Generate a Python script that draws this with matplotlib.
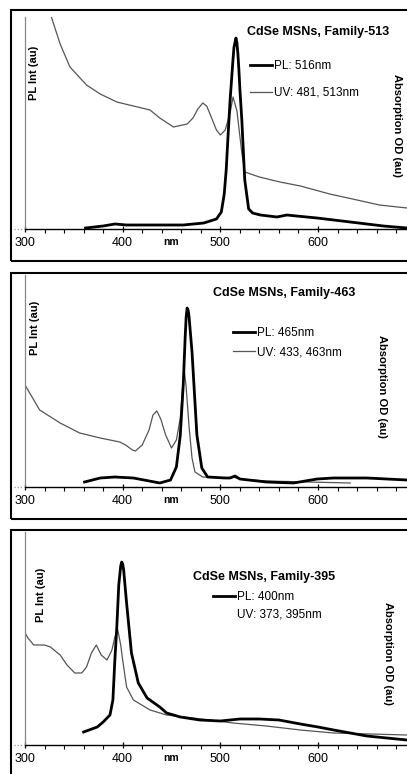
import matplotlib
matplotlib.use("Agg")
import matplotlib.pyplot as plt
from matplotlib.lines import Line2D
from matplotlib.patches import Rectangle
from matplotlib.ticker import MultipleLocator

plt.rcParams['font.family'] = ['Liberation Sans', 'DejaVu Sans']

W, H = 407, 774

# wavelength (nm) / intensity (au)
pl1_nm = [362, 380, 392, 404, 430, 462, 483, 496, 501, 504, 506, 508, 510, 513, 514, 516, 517, 518, 519, 520, 522, 525, 529, 533, 541, 558, 568, 578, 599, 633, 667, 691]
pl1 = [1, 3, 5, 4, 4, 4, 6, 10, 17, 35, 59, 95, 129, 170, 182, 191, 186, 175, 159, 140, 109, 49, 20, 16, 14, 12, 14, 13, 11, 7, 3, 1]
uv1_nm = [322, 327, 336, 346, 363, 377, 394, 411, 428, 438, 452, 466, 472, 477, 482, 486, 489, 496, 500, 505, 510, 513, 517, 522, 525, 540, 561, 582, 612, 640, 663, 691]
uv1 = [240, 212, 185, 162, 144, 135, 127, 123, 119, 111, 102, 105, 111, 120, 126, 123, 116, 99, 94, 99, 116, 132, 118, 76, 57, 52, 47, 43, 35, 29, 24, 21]

pl2_nm = [361, 377, 392, 411, 438, 449, 455, 459, 462, 464, 465, 466, 467, 468, 471, 476, 481, 487, 505, 510, 515, 520, 547, 575, 599, 616, 650, 691]
pl2 = [5, 9, 10, 9, 4, 7, 20, 52, 102, 150, 170, 179, 177, 170, 135, 52, 19, 10, 9, 9, 11, 8, 5, 4, 8, 9, 9, 7]
uv2_nm = [300, 303, 315, 336, 356, 377, 397, 403, 410, 413, 420, 427, 431, 435, 439, 444, 450, 455, 459, 461, 463, 465, 468, 471, 474, 482, 506, 513, 520, 547, 633]
uv2 = [102, 97, 77, 64, 54, 49, 45, 42, 37, 36, 42, 57, 72, 76, 68, 52, 39, 47, 69, 95, 117, 100, 60, 29, 15, 10, 9, 10, 8, 6, 4]

pl3_nm = [360, 374, 380, 387, 390, 392, 394, 396, 398, 399, 400, 401, 404, 409, 416, 425, 438, 445, 459, 479, 500, 520, 540, 560, 582, 600, 616, 650, 691]
pl3 = [13, 18, 23, 30, 45, 85, 118, 160, 179, 183, 181, 175, 142, 92, 62, 47, 38, 32, 28, 25, 24, 26, 26, 25, 21, 18, 15, 9, 5]
uv3_nm = [300, 303, 309, 320, 326, 336, 343, 351, 358, 363, 368, 373, 378, 384, 389, 392, 395, 398, 400, 404, 411, 428, 445, 472, 513, 547, 582, 616, 691]
uv3 = [112, 107, 100, 100, 98, 90, 80, 72, 72, 78, 92, 100, 90, 85, 95, 108, 115, 100, 85, 58, 45, 35, 30, 27, 22, 19, 15, 12, 10]

titles = ["CdSe MSNs, Family-513", "CdSe MSNs, Family-463", "CdSe MSNs, Family-395"]
pl_labels = ["PL: 516nm", "PL: 465nm", "PL: 400nm"]
uv_labels = ["UV: 481, 513nm", "UV: 433, 463nm", "UV: 373, 395nm"]
xticks = [300, 400, 500, 600]

# layout in pixels: (axes top, axes bottom, box top, box bottom)
panels = [
    dict(top=17, bot=229, box=(10, 261), title=(247, 32), leg=(250, 60), lsp=1.25,
         ylab=(34, 73), abs=(397, 125), uvhandle=True),
    dict(top=275, bot=487, box=(273, 519), title=(213, 293), leg=(233, 327), lsp=0.62,
         ylab=(35, 328), abs=(382, 386), uvhandle=True),
    dict(top=532, bot=745, box=(530, 790), title=(193, 577), leg=(213, 591), lsp=0.45,
         ylab=(41, 595), abs=(388, 653), uvhandle=False),
]
data = [(pl1_nm, pl1, uv1_nm, uv1), (pl2_nm, pl2, uv2_nm, uv2), (pl3_nm, pl3, uv3_nm, uv3)]

def fx(x):
    return x / W

def fy(y):
    return 1 - y / H

fig = plt.figure(figsize=(W / 100, H / 100), dpi=100)
x_left = 25
x_max = 300 + (W - x_left) / 0.9767

for i, p in enumerate(panels):
    pl_x, pl_y, uv_x, uv_y = data[i]
    # outer frame
    b0, b1 = p['box']
    fig.add_artist(Rectangle((fx(11), fy(b1)), fx(420 - 11), (b1 - b0) / H,
                             transform=fig.transFigure, fill=False, lw=1.5, ec='black'))
    ax = fig.add_axes([fx(x_left), fy(p['bot']), 1 - fx(x_left), (p['bot'] - p['top']) / H])
    ax.patch.set_alpha(0)
    uv_line, = ax.plot(uv_x, uv_y, color='#555555', lw=0.9)
    pl_line, = ax.plot(pl_x, pl_y, color='black', lw=2.0)
    ax.set_xlim(300, x_max)
    ax.set_ylim(0, p['bot'] - p['top'])
    for s in ['top', 'right']:
        ax.spines[s].set_visible(False)
    ax.spines['left'].set_color('#888888')
    ax.spines['left'].set_linewidth(0.9)
    ax.spines['bottom'].set_linewidth(1.0)
    ax.set_yticks([])
    ax.set_xticks(xticks)
    ax.xaxis.set_minor_locator(MultipleLocator(20))
    ax.tick_params(axis='x', which='major', direction='inout', length=5, width=0.9,
                   labelsize=9, pad=3)
    ax.tick_params(axis='x', which='minor', direction='out', length=3, width=0.8)
    ax.text(450, -13, 'nm', fontsize=7.5, fontweight='bold', ha='center', va='center')
    # little dotted stub left of the axis
    fig.add_artist(Line2D([fx(14), fx(23)], [fy(p['bot']), fy(p['bot'])],
                          transform=fig.transFigure, color='#999999', lw=0.9, ls=(0, (1, 1.5))))

    fig.text(fx(p['title'][0]), fy(p['title'][1]), titles[i], fontsize=9,
             fontweight='bold', ha='left', va='center')
    fig.text(fx(p['ylab'][0]), fy(p['ylab'][1]), 'PL Int (au)', fontsize=8,
             fontweight='bold', rotation=90, ha='center', va='center')
    fig.text(fx(p['abs'][0]), fy(p['abs'][1]), 'Absorption OD (au)', fontsize=8,
             fontweight='bold', rotation=-90, ha='center', va='center')

    uv_h = uv_line if p['uvhandle'] else Line2D([], [], color='none')
    ax.legend([pl_line, uv_h], [pl_labels[i], uv_labels[i]], loc='upper left',
              bbox_to_anchor=(fx(p['leg'][0]), fy(p['leg'][1])),
              bbox_transform=fig.transFigure, frameon=False, fontsize=8.5,
              borderpad=0, borderaxespad=0, handlelength=1.9, handletextpad=0.15,
              labelspacing=p['lsp'])

fig.savefig('out.png', dpi=100)
